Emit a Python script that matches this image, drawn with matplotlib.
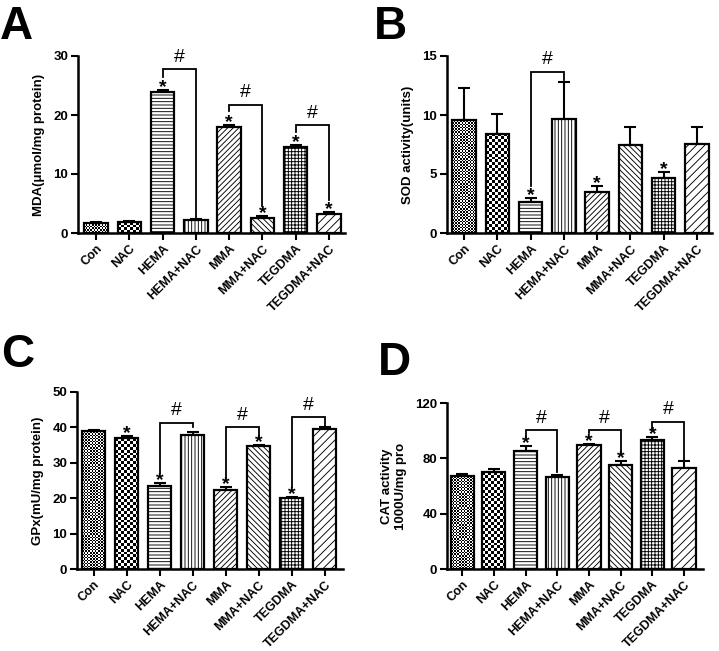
import numpy as np
import matplotlib
matplotlib.use("Agg")
import matplotlib.pyplot as plt

plt.rcParams['font.family'] = ['Liberation Sans', 'DejaVu Sans']
plt.rcParams['font.weight'] = 'bold'
plt.rcParams['hatch.linewidth'] = 0.65

groups = ['Con', 'NAC', 'HEMA', 'HEMA+NAC', 'MMA', 'MMA+NAC', 'TEGDMA', 'TEGDMA+NAC']

# A: MDA
mda = [1.7, 1.8, 23.9, 2.2, 18.0, 2.6, 14.6, 3.3]
mda_err = [0.15, 0.15, 0.4, 0.15, 0.3, 0.2, 0.3, 0.2]
mda_star = [2, 4, 5, 6, 7]
# bracket: (left bar, right bar, top, left leg end, right leg end)
mda_br = [(2, 3, 27.8, 26.4, 2.5), (4, 5, 21.7, 20.7, 4.5), (6, 7, 18.3, 17.2, 5.6)]

# B: SOD
sod = [9.6, 8.4, 2.65, 9.7, 3.5, 7.45, 4.65, 7.55]
sod_err = [2.65, 1.7, 0.35, 3.1, 0.5, 1.55, 0.55, 1.4]
sod_star = [2, 4, 6]
sod_br = [(2, 3, 13.67, 3.95, 12.97)]

# C: GPx
gpx = [39.1, 37.0, 23.5, 37.9, 22.4, 34.7, 20.1, 39.6]
gpx_err = [0.2, 0.6, 0.7, 0.8, 0.8, 0.3, 0.3, 0.4]
gpx_star = [1, 2, 4, 5, 6]
gpx_br = [(2, 3, 41.3, 27.0, 40.0), (4, 5, 40.0, 25.6, 37.3), (6, 7, 42.8, 23.3, 40.2)]

# D: CAT
cat = [67.0, 69.8, 85.4, 66.2, 89.8, 75.4, 93.1, 72.7]
cat_err = [1.4, 2.4, 3.6, 2.0, 0.5, 2.8, 2.2, 5.3]
cat_star = [2, 4, 5, 6]
cat_br = [(2, 3, 100.3, 95.5, 70.3), (4, 5, 100.3, 98.0, 83.5), (6, 7, 106.3, 101.5, 78.7)]

hatches = [None, None, '-----', '|||||', '//////', '\\\\\\\\\\\\', '+++++', '////']
checker_cols = {0: 15, 1: 8}

W, H = 719, 651
fig = plt.figure(figsize=(W / 100, H / 100), dpi=100)


def px_axes(l, r, t, b):
    return fig.add_axes([l / W, 1 - b / H, (r - l) / W, (b - t) / H])


def panel(box, vals, errs, stars, brs, ylim, yticks, ylabel, xlim, letter, lpos, width=0.7):
    ax = px_axes(*box)
    ax.set_xlim(*xlim)
    ax.set_ylim(*ylim)
    x = np.arange(len(groups))
    bars = ax.bar(x, vals, width=width, facecolor='white', edgecolor='black',
                  linewidth=1.6, zorder=3)
    for i, b in enumerate(bars):
        if hatches[i]:
            b.set_hatch(hatches[i])
    # checker patterns for first two bars
    fig.canvas.draw()
    for i, nc in checker_cols.items():
        b = bars[i]
        x0, w, h = b.get_x(), b.get_width(), b.get_height()
        p0 = ax.transData.transform((x0, 0))
        p1 = ax.transData.transform((x0 + w, h))
        nr = max(1, int(round(nc * (p1[1] - p0[1]) / (p1[0] - p0[0]))))
        img = np.add.outer(np.arange(nr), np.arange(nc)) % 2
        b.set_facecolor('none')
        im = ax.imshow(img, cmap='gray', extent=(x0, x0 + w, 0, h), aspect='auto',
                       interpolation='nearest', zorder=2)
        im.set_clip_path(b)
    ax.set_xlim(*xlim)
    ax.set_ylim(*ylim)
    ax.errorbar(x, vals, yerr=[np.zeros(len(vals)), errs], fmt='none', ecolor='black',
                elinewidth=1.5, capsize=4.5, capthick=1.5, zorder=2.5)
    for i in stars:
        ax.annotate('*', (x[i], vals[i] + errs[i]), xytext=(0, -1.5), textcoords='offset points',
                    ha='center', va='baseline', fontsize=14, fontweight='bold')
    for l, r, top, le, re in brs:
        ax.plot([l, l, r, r], [le, top, top, re], color='black', lw=1.3, zorder=4,
                solid_joinstyle='miter')
        ax.annotate('#', ((l + r) / 2, top), xytext=(0, 2.5), textcoords='offset points',
                    ha='center', va='bottom', fontsize=14, fontweight='normal')
    ax.set_yticks(yticks)
    ax.set_xticks(x)
    ax.set_xticklabels(groups, rotation=45, ha='right', rotation_mode='anchor')
    for s in ['top', 'right']:
        ax.spines[s].set_visible(False)
    for s in ['left', 'bottom']:
        ax.spines[s].set_linewidth(1.8)
    ax.tick_params(width=1.5, length=5, labelsize=9, pad=2)
    ax.tick_params(axis='y', labelsize=9.5)
    ax.set_ylabel(ylabel, fontsize=9.5, fontweight='bold', labelpad=6)
    fig.text(lpos[0] / W, 1 - lpos[1] / H, letter, fontsize=33, fontweight='bold',
             ha='left', va='top')
    return ax


panel((78, 345, 56, 233), mda, mda_err, mda_star, mda_br, (0, 30), [0, 10, 20, 30],
      'MDA(μmol/mg protein)', (-0.54, 7.48), 'A', (0, 5))
panel((447, 712, 56, 233), sod, sod_err, sod_star, sod_br, (0, 15), [0, 5, 10, 15],
      'SOD activity(units)', (-0.51, 7.45), 'B', (374, 5))
panel((77, 343, 392, 569), gpx, gpx_err, gpx_star, gpx_br, (0, 50), [0, 10, 20, 30, 40, 50],
      'GPx(mU/mg protein)', (-0.5, 7.55), 'C', (1, 333))
panel((447, 703, 403, 569), cat, cat_err, cat_star, cat_br, (0, 120), [0, 40, 80, 120],
      'CAT activity\n1000U/mg pro', (-0.48, 7.6), 'D', (378, 341), width=0.73)

fig.savefig('out.png', dpi=100)
